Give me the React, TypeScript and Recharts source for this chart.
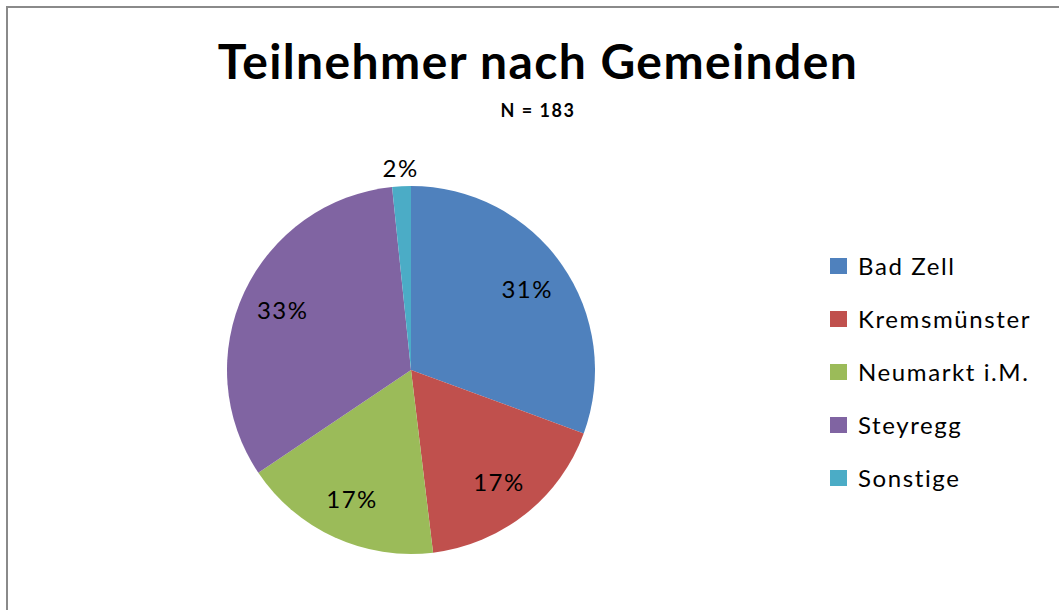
import React from 'react';
import { PieChart, Pie, Cell, Legend } from 'recharts';

const categories = ['Bad Zell', 'Kremsmünster', 'Neumarkt i.M.', 'Steyregg', 'Sonstige'];
const counts = [56, 32, 32, 60, 3];
const colors = ['#4F81BD', '#C0504D', '#9BBB59', '#8064A2', '#4BACC6'];
const title = 'Teilnehmer nach Gemeinden';
const subtitle = 'N = 183';

const data = categories.map((name, i) => ({ name, value: counts[i] }));

const FONT = 'Lato, "Open Sans", sans-serif';
const RAD = Math.PI / 180;

const renderLabel = (props: any) => {
  const { cx, cy, midAngle, outerRadius, percent } = props;
  const r = percent < 0.05 ? outerRadius + 19 : outerRadius * 0.77;
  const x = cx + r * Math.cos(-midAngle * RAD);
  const y = cy + r * Math.sin(-midAngle * RAD);
  return (
    <text x={x} y={y} fill="#000" fontSize={24} letterSpacing={1.5} fontFamily={FONT} textAnchor="middle" dominantBaseline="central">
      {Math.round(percent * 100) + '%'}
    </text>
  );
};

const renderLegend = () => (
  <div style={{ fontFamily: FONT }}>
    {categories.map((name, i) => (
      <div key={name} style={{ display: 'flex', alignItems: 'center', height: 53 }}>
        <div style={{ width: 17, height: 16, background: colors[i], marginRight: 11 }} />
        <span style={{ fontSize: 24, color: '#000', letterSpacing: 1.6, whiteSpace: 'nowrap' }}>{name}</span>
      </div>
    ))}
  </div>
);

export default function App() {
  return (
    <div style={{ position: 'absolute', left: 0, top: 0, width: 1059, height: 610, overflow: 'hidden', background: '#fff' }}>
      <div style={{ position: 'absolute', left: 6, top: 6, width: 1100, height: 700, border: '2px solid #8a8a8a', boxSizing: 'border-box' }} />
      <div style={{ position: 'absolute', left: 0, top: 33, width: 1076, textAlign: 'center', fontFamily: FONT, fontWeight: 700, fontSize: 48, letterSpacing: 1.4, lineHeight: '56px', color: '#000', whiteSpace: 'nowrap' }}>
        {title}
      </div>
      <div style={{ position: 'absolute', left: 0, top: 98, width: 1076, textAlign: 'center', fontFamily: FONT, fontWeight: 700, fontSize: 18, letterSpacing: 1.5, lineHeight: '24px', color: '#000' }}>
        {subtitle}
      </div>
      <div style={{ position: 'absolute', left: 0, top: 0 }}>
        <PieChart width={1059} height={610} margin={{ top: 0, right: 0, bottom: 0, left: 0 }}>
          <Pie
            data={data}
            dataKey="value"
            nameKey="name"
            cx={411}
            cy={370}
            outerRadius={184}
            startAngle={90}
            endAngle={-270}
            stroke="none"
            label={renderLabel}
            labelLine={false}
            isAnimationActive={false}
          >
            {data.map((d, i) => (
              <Cell key={d.name} fill={colors[i]} />
            ))}
          </Pie>
          <Legend
            layout="vertical"
            align="right"
            verticalAlign="top"
            content={renderLegend}
            wrapperStyle={{ left: 830, top: 239, width: 229 }}
          />
        </PieChart>
      </div>
    </div>
  );
}
